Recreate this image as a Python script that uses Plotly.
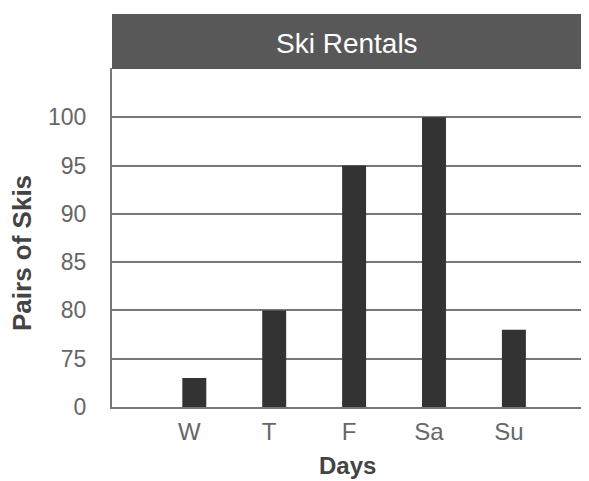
import plotly.graph_objects as go

days = ["W", "T", "F", "Sa", "Su"]
pairs = [73, 80, 95, 100, 78]
tick_vals = [70, 75, 80, 85, 90, 95, 100]
tick_text = ["0", "75", "80", "85", "90", "95", "100"]

# page body has an 8px margin; figure coords = screen coords - 8
OFF = 8
W, H = 589 - OFF, 481 - OFF
L = 112 - OFF
T = 68 - OFF
B = H - (407 - OFF)
ph = H - T - B
pw = W - L

fig = go.Figure()
fig.add_trace(go.Bar(x=list(range(len(days))), y=pairs, marker=dict(color="#333333", line=dict(width=0)),
                     width=0.3, showlegend=False))

fig.update_layout(
    width=W, height=H,
    margin=dict(l=L, r=0, t=T, b=B, pad=0),
    paper_bgcolor="white", plot_bgcolor="white",
    font=dict(family="Liberation Sans, Arial, sans-serif"),
    xaxis=dict(range=[-1.03, 4.94], tickvals=list(range(len(days))), ticktext=days,
               showgrid=False, showline=True, linecolor="#777777", linewidth=2,
               ticks="", tickfont=dict(size=24, color="#666666"), ticklabelstandoff=2,
               ticklabelshift=-5, zeroline=False),
    yaxis=dict(range=[70, 105.1], tickvals=tick_vals, ticktext=tick_text,
               showgrid=True, gridcolor="#777777", gridwidth=1.5,
               showline=True, linecolor="#777777", linewidth=2,
               ticks="", tickfont=dict(size=23, color="#666666"), ticklabelstandoff=19,
               zeroline=False),
    shapes=[dict(type="rect", xref="paper", yref="paper", x0=0, x1=1,
                 y0=1, y1=1 + 54 / ph, fillcolor="#585858", line=dict(width=0), layer="above"),
            dict(type="line", xref="paper", yref="paper", x0=0, x1=1, y0=1, y1=1,
                 line=dict(color="#555555", width=2))],
    annotations=[
        dict(text="Ski Rentals", xref="paper", yref="paper", x=(347 - 112) / pw, y=1 + 24 / ph,
             showarrow=False, font=dict(size=28, color="white"), xanchor="center", yanchor="middle"),
        dict(text="<b>Days</b>", xref="paper", yref="paper", x=(347 - 112) / pw, y=-(465 - 407) / ph,
             showarrow=False, font=dict(size=24, color="#444444"), xanchor="center", yanchor="middle"),
        dict(text="<b>Pairs of Skis</b>", xref="paper", yref="paper", x=-(112 - 22) / pw,
             y=(407 - 253) / ph, textangle=-90,
             showarrow=False, font=dict(size=26, color="#444444"), xanchor="center", yanchor="middle"),
    ],
)

fig.write_html("out.html")
